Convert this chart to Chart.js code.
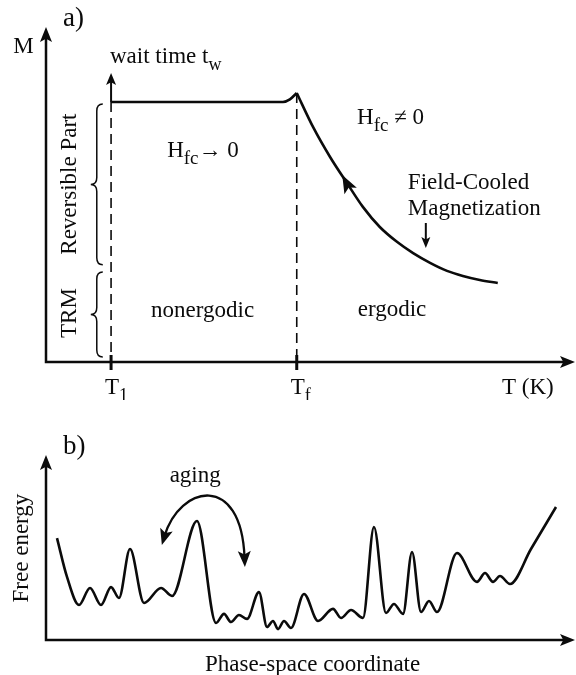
<!DOCTYPE html>
<html>
<head>
<meta charset="utf-8">
<script src="https://cdn.jsdelivr.net/npm/chart.js@4/dist/chart.umd.min.js"></script>
<style>
  html, body { margin: 0; padding: 0; background: #fff; }
  #wrap { position: relative; width: 576px; height: 675px; }
  canvas { position: absolute; left: 0; }
  #magChart { top: 0; }
  #energyChart { top: 400px; }
</style>
</head>
<body>
<div id="wrap">
  <canvas id="magChart" width="576" height="400"></canvas>
  <canvas id="energyChart" width="576" height="275"></canvas>
</div>
<script>
// ---- Panel a: magnetization M versus temperature T (schematic units, 0–100) ----
// Flat zero-field plateau below the freezing temperature, ending in a small cusp
const plateauT = [12.3, 44.8, 46.1, 47.4];
const plateauM = [77.6, 77.6, 78.4, 80.3];
// Field-cooled branch above the freezing temperature
const fcT = [47.4, 50.5, 53.7, 56.9, 59.9, 63.1, 66.4, 69.4, 72.6, 75.8, 78.8, 82.0, 85.4];
const fcM = [80.3, 70.1, 61.2, 53.4, 46.3, 40.3, 35.8, 32.5, 29.6, 27.2, 25.7, 24.5, 23.6];
// Marked temperatures on the T axis (T1 and Tf)
const tempTickValues = [12.3, 47.4];
const tempTickNames = ['T', 'T'];
const tempTickSubs = ['1', 'f'];
// Split between TRM and reversible part of M
const trmTop = 26.9;
const reversibleBottom = 29.0;

// ---- Panel b: rugged free-energy landscape ----
const phaseX = [2.08, 3.97, 6.24, 8.32, 10.40, 12.29, 13.80, 15.88, 18.53, 21.74, 23.82, 28.54,
  32.14, 33.65, 34.97, 36.48, 38.00, 40.26, 41.78, 42.91, 43.86, 44.99, 46.31, 48.77, 51.42,
  54.25, 55.77, 57.66, 59.92, 62.00, 64.27, 65.78, 67.49, 69.19, 70.89, 72.40, 73.91, 77.69,
  81.47, 82.99, 84.50, 85.82, 87.71, 91.68, 96.41];
const freeEnergy = [55.1, 34.1, 18.9, 28.1, 18.9, 28.6, 22.7, 49.2, 20.0, 28.1, 23.8, 64.3,
  9.2, 14.1, 9.7, 13.5, 11.4, 25.9, 7.0, 10.3, 5.9, 10.3, 6.5, 24.9, 10.3,
  16.8, 11.9, 16.2, 11.9, 61.1, 14.6, 19.5, 14.1, 47.6, 15.1, 21.1, 15.1, 47.0,
  31.4, 36.2, 31.4, 34.6, 30.3, 49.2, 71.9];

const toPoints = (xs, ys) => xs.map((v, i) => ({ x: v, y: ys[i] }));

const INK = '#0b0b0b';
const SERIF = '"Liberation Serif", "DejaVu Serif", serif';
const BIG = 23;
const SUB = 19;
const PANEL = 27;

// ---- drawing helpers ----
function arrowHead(ctx, tx, ty, dx, dy, len, half) {
  const n = Math.hypot(dx, dy); dx /= n; dy /= n;
  const bx = tx - dx * len, by = ty - dy * len;
  const nx = tx - dx * len * 0.78, ny = ty - dy * len * 0.78;
  ctx.beginPath();
  ctx.moveTo(tx, ty);
  ctx.lineTo(bx - dy * half, by + dx * half);
  ctx.lineTo(nx, ny);
  ctx.lineTo(bx + dy * half, by - dx * half);
  ctx.closePath();
  ctx.fill();
}

function axesWithArrows(chart) {
  const { ctx, chartArea: a } = chart;
  ctx.save();
  ctx.strokeStyle = INK; ctx.fillStyle = INK; ctx.lineWidth = 2.5;
  ctx.beginPath();
  ctx.moveTo(a.left, a.top + 8); ctx.lineTo(a.left, a.bottom);
  ctx.lineTo(a.right - 8, a.bottom);
  ctx.stroke();
  arrowHead(ctx, a.left, a.top, 0, -1, 15, 6);
  arrowHead(ctx, a.right, a.bottom, 1, 0, 15, 6);
  ctx.restore();
}

function textWithSub(ctx, x, y, main, sub, rest, subSize) {
  ctx.font = BIG + 'px ' + SERIF;
  ctx.textAlign = 'left'; ctx.textBaseline = 'alphabetic';
  ctx.fillText(main, x, y);
  let cx = x + ctx.measureText(main).width;
  if (sub) {
    ctx.font = (subSize || SUB) + 'px ' + SERIF;
    ctx.fillText(sub, cx, y + 7);
    cx += ctx.measureText(sub).width;
  }
  if (rest) {
    ctx.font = BIG + 'px ' + SERIF;
    ctx.fillText(rest, cx, y);
  }
}

function brace(ctx, x, y0, y1, w) {
  const ym = (y0 + y1) / 2, r = 7;
  ctx.beginPath();
  ctx.moveTo(x + w / 2, y0);
  ctx.quadraticCurveTo(x, y0, x, y0 + r);
  ctx.lineTo(x, ym - r);
  ctx.quadraticCurveTo(x, ym, x - w / 2, ym);
  ctx.quadraticCurveTo(x, ym, x, ym + r);
  ctx.lineTo(x, y1 - r);
  ctx.quadraticCurveTo(x, y1, x + w / 2, y1);
  ctx.stroke();
}

function rotatedText(ctx, text, cx, cy) {
  ctx.save();
  ctx.translate(cx, cy);
  ctx.rotate(-Math.PI / 2);
  ctx.font = BIG + 'px ' + SERIF;
  ctx.textAlign = 'center'; ctx.textBaseline = 'middle';
  ctx.fillText(text, 0, 0);
  ctx.restore();
}

// ---- panel a decorations ----
const magDecor = {
  id: 'magDecor',
  afterDraw(chart) {
    const { ctx } = chart;
    const X = v => chart.scales.x.getPixelForValue(v);
    const Y = v => chart.scales.y.getPixelForValue(v);
    axesWithArrows(chart);
    ctx.save();
    ctx.strokeStyle = INK; ctx.fillStyle = INK;

    // dashed verticals at T1 and Tf, up to the curve
    const tops = [plateauM[0], plateauM[plateauM.length - 1]];
    ctx.lineWidth = 1.6;
    ctx.setLineDash([10, 6]);
    tempTickValues.forEach((t, i) => {
      ctx.beginPath();
      ctx.moveTo(X(t), Y(tops[i]));
      ctx.lineTo(X(t), Y(0));
      ctx.stroke();
    });
    ctx.setLineDash([]);

    // tick marks on the T axis
    ctx.lineWidth = 3;
    tempTickValues.forEach(t => {
      ctx.beginPath();
      ctx.moveTo(X(t), Y(0) - 7);
      ctx.lineTo(X(t), Y(0) + 8);
      ctx.stroke();
    });

    // tick labels
    tempTickValues.forEach((t, i) => {
      textWithSub(ctx, X(t) - 6, Y(-9.6), tempTickNames[i], tempTickSubs[i], '', 18);
    });
    ctx.font = BIG + 'px ' + SERIF;
    ctx.textAlign = 'left';
    ctx.fillText('T (K)', X(86.2), Y(-9.6));
    ctx.fillText('M', X(-6.2), Y(92.2));
    ctx.font = PANEL + 'px ' + SERIF;
    ctx.fillText('a)', X(3.2), Y(100.3));

    // wait-time arrow
    ctx.lineWidth = 2;
    ctx.beginPath();
    ctx.moveTo(X(tempTickValues[0]), Y(plateauM[0]));
    ctx.lineTo(X(tempTickValues[0]), Y(84));
    ctx.stroke();
    arrowHead(ctx, X(tempTickValues[0]), Y(86.3), 0, -1, 12, 5);
    textWithSub(ctx, X(12.1), Y(89.3), 'wait time t', 'w', '', 18);

    // arrowhead on the field-cooled curve (pointing toward decreasing T)
    arrowHead(ctx, X(56.0), Y(55.8), X(56.0) - X(57.5), Y(55.8) - Y(51.3), 18, 7);

    // field labels
    textWithSub(ctx, X(22.9), Y(61.2), 'H', 'fc', '\u2192 0');
    textWithSub(ctx, X(58.8), Y(71.0), 'H', 'fc', ' \u2260 0');

    ctx.font = BIG + 'px ' + SERIF;
    ctx.textAlign = 'left';
    ctx.fillText('Field-Cooled', X(68.4), Y(51.6));
    ctx.fillText('Magnetization', X(68.4), Y(43.9));
    // small down arrow to the curve
    ctx.lineWidth = 2;
    ctx.beginPath();
    ctx.moveTo(X(71.8), Y(41.5));
    ctx.lineTo(X(71.8), Y(36));
    ctx.stroke();
    arrowHead(ctx, X(71.8), Y(34.0), 0, 1, 11, 4.5);

    ctx.textAlign = 'center';
    ctx.fillText('nonergodic', X(29.6), Y(13.4));
    ctx.fillText('ergodic', X(65.4), Y(13.7));

    // braces for reversible part and TRM
    ctx.lineWidth = 1.5;
    brace(ctx, X(9.6), Y(plateauM[0] - 0.6), Y(reversibleBottom), 12);
    brace(ctx, X(9.6), Y(trmTop), Y(1.5), 12);
    rotatedText(ctx, 'Reversible Part', X(4.6), Y(53.1));
    rotatedText(ctx, 'TRM', X(4.6), Y(14.6));
    ctx.restore();
  }
};

// ---- panel b decorations ----
const energyDecor = {
  id: 'energyDecor',
  afterDraw(chart) {
    const { ctx } = chart;
    const X = v => chart.scales.x.getPixelForValue(v);
    const Y = v => chart.scales.y.getPixelForValue(v);
    axesWithArrows(chart);
    ctx.save();
    ctx.strokeStyle = INK; ctx.fillStyle = INK;
    ctx.textAlign = 'left'; ctx.textBaseline = 'alphabetic';
    ctx.font = PANEL + 'px ' + SERIF;
    ctx.fillText('b)', X(3.2), Y(100.5));
    ctx.font = BIG + 'px ' + SERIF;
    ctx.textAlign = 'center';
    ctx.fillText('aging', X(28.2), Y(85.4));
    ctx.fillText('Phase-space coordinate', X(50.4), Y(-16.8));
    rotatedText(ctx, 'Free energy', X(-4.5), Y(49.7));

    // double-headed aging arrow over the tall barrier
    const p0 = [X(21.9), Y(51.4)], p1 = [X(25.3), Y(83.8)];
    const p2 = [X(36.9), Y(90.8)], p3 = [X(37.6), Y(39.5)];
    ctx.lineWidth = 2.3;
    ctx.beginPath();
    ctx.moveTo(p0[0] + (p1[0] - p0[0]) * 0.15, p0[1] + (p1[1] - p0[1]) * 0.15);
    ctx.bezierCurveTo(p1[0], p1[1], p2[0], p2[1], p3[0] + (p2[0] - p3[0]) * 0.1, p3[1] + (p2[1] - p3[1]) * 0.1);
    ctx.stroke();
    arrowHead(ctx, p0[0], p0[1], p0[0] - p1[0], p0[1] - p1[1], 16, 6.5);
    arrowHead(ctx, p3[0], p3[1], p3[0] - p2[0], p3[1] - p2[1], 16, 6.5);
    ctx.restore();
  }
};

const lineStyle = {
  borderColor: INK,
  borderWidth: 2.6,
  pointRadius: 0,
  fill: false,
  cubicInterpolationMode: 'monotone',
  clip: false
};

const hiddenScales = {
  x: { type: 'linear', min: 0, max: 100, display: false },
  y: { type: 'linear', min: 0, max: 100, display: false }
};

const commonOptions = (padding) => ({
  responsive: false,
  animation: false,
  devicePixelRatio: 1,
  layout: { padding },
  scales: hiddenScales,
  plugins: { legend: { display: false }, tooltip: { enabled: false } },
  events: []
});

new Chart(document.getElementById('magChart'), {
  type: 'line',
  data: {
    datasets: [
      Object.assign({ data: toPoints(plateauT, plateauM) }, lineStyle),
      Object.assign({ data: toPoints(fcT, fcM) }, lineStyle)
    ]
  },
  options: commonOptions({ left: 46, right: 1, top: 27, bottom: 38 }),
  plugins: [magDecor]
});

new Chart(document.getElementById('energyChart'), {
  type: 'line',
  data: {
    datasets: [
      Object.assign({ data: toPoints(phaseX, freeEnergy) }, lineStyle)
    ]
  },
  options: commonOptions({ left: 46, right: 1, top: 55, bottom: 35 }),
  plugins: [energyDecor]
});
</script>
</body>
</html>
